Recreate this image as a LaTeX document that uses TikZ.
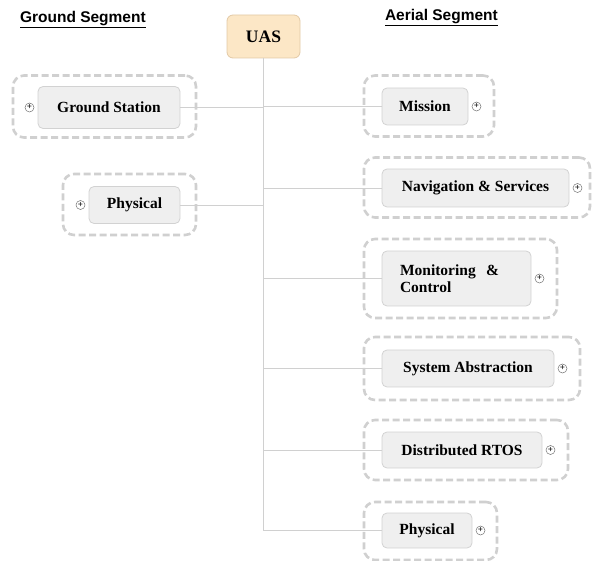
\documentclass[tikz,border=0pt]{standalone}
\usepackage{fontspec}
\setmainfont{Liberation Serif}
\newfontfamily\headfont{Liberation Sans}
\usetikzlibrary{calc}
\definecolor{boxfill}{HTML}{EFEFEF}
\definecolor{boxline}{HTML}{D2D2D2}
\definecolor{grpline}{HTML}{D0D0D0}
\definecolor{rootfill}{HTML}{FCE7C6}
\definecolor{rootline}{HTML}{E2C9A6}
\definecolor{wire}{HTML}{D0D0D0}
\tikzset{
  every node/.style={inner sep=0pt, outer sep=0pt},
  topic/.style={draw=boxline, fill=boxfill, rounded corners=5pt, line width=0.8pt,
    font=\fontsize{15.5}{17}\selectfont\bfseries, text=black},
  root/.style={draw=rootline, fill=rootfill, rounded corners=6pt, line width=0.8pt,
    font=\fontsize{17.5}{20}\selectfont\bfseries,
    minimum width=73pt, minimum height=43pt},
  grp/.style={draw=grpline, line width=2.6pt, dash pattern=on 7pt off 3.5pt,
    rounded corners=11pt},
  expander/.style={circle, draw=black!55, fill=white, line width=0.5pt,
    minimum size=9pt,
    label={[font=\fontsize{9}{9}\selectfont\bfseries, yshift=0.5pt]center:+}},
  seghead/.style={font=\fontsize{15.5}{17}\selectfont\headfont\bfseries},
  wireline/.style={draw=wire, line width=0.9pt},
}
\begin{document}
\begin{tikzpicture}[x=1pt, y=-1pt]
\useasboundingbox (0,0) rectangle (592,561);

% segment headings
\node[seghead, anchor=west] (ghead) at (20,20) {\underline{Ground Segment}};
\node[seghead, anchor=west] (ahead) at (385,18) {\underline{Aerial Segment}};

% root
\node[root] (uas) at (263.5,36.5) {UAS};

% dashed group frames
\node[grp, minimum width=183pt, minimum height=62pt] (gsgrp)  at (104.5,106.5) {};
\node[grp, minimum width=133pt, minimum height=61pt] (phlgrp) at (129.5,204.5) {};
\node[grp, minimum width=130pt, minimum height=61pt] (misgrp) at (429,106) {};
\node[grp, minimum width=226pt, minimum height=60pt] (navgrp) at (477,187.5) {};
\node[grp, minimum width=193pt, minimum height=79pt] (mcgrp)  at (460.5,278.5) {};
\node[grp, minimum width=216pt, minimum height=63pt] (sagrp)  at (472,368.5) {};
\node[grp, minimum width=204pt, minimum height=60pt] (rtgrp)  at (466,450) {};
\node[grp, minimum width=133pt, minimum height=58pt] (phrgrp) at (430.5,531) {};

% topics
\node[topic, minimum width=142pt, minimum height=42pt] (gs)   at (109,107.5) {Ground Station};
\node[topic, minimum width=91pt,  minimum height=37pt] (phl)  at (134.5,205) {Physical};
\node[topic, minimum width=86pt,  minimum height=37pt] (mis)  at (425,106.5) {Mission};
\node[topic, minimum width=187pt, minimum height=38pt] (nav)  at (475.5,188) {Navigation \& Services};
\node[topic, text width=113pt, inner xsep=18pt, minimum height=55pt, align=left] (mc) at (456.5,278.5)
  {Monitoring\ \ \&\\Control};
\node[topic, minimum width=172pt, minimum height=37pt] (sa)   at (468,368.5) {System Abstraction};
\node[topic, minimum width=160pt, minimum height=36pt] (rt)   at (462,450) {Distributed RTOS};
\node[topic, minimum width=90pt,  minimum height=35pt] (phr)  at (427,530.5) {Physical};

% expanders
\node[expander] (gsx)  at ($(gs.west)+(-8.5,0)$) {};
\node[expander] (phlx) at ($(phl.west)+(-8.5,0)$) {};
\node[expander] (misx) at ($(mis.east)+(8.5,0)$) {};
\node[expander] (navx) at ($(nav.east)+(8.5,0)$) {};
\node[expander] (mcx)  at ($(mc.east)+(8.5,0)$) {};
\node[expander] (sax)  at ($(sa.east)+(8.5,0)$) {};
\node[expander] (rtx)  at ($(rt.east)+(8.5,0)$) {};
\node[expander] (phrx) at ($(phr.east)+(8.5,0)$) {};

% trunk and branches
\draw[wireline] (uas.south) -- (uas.south |- phr.west);
\draw[wireline] (gs.east) -- (gs.east -| uas.south);
\draw[wireline] (mis.west) -- (mis.west -| uas.south);
\draw[wireline] (phl.east) -- (phl.east -| uas.south);
\draw[wireline] (nav.west) -- (nav.west -| uas.south);
\draw[wireline] (mc.west) -- (mc.west -| uas.south);
\draw[wireline] (sa.west) -- (sa.west -| uas.south);
\draw[wireline] (rt.west) -- (rt.west -| uas.south);
\draw[wireline] (phr.west) -- (phr.west -| uas.south);
\end{tikzpicture}
\end{document}
